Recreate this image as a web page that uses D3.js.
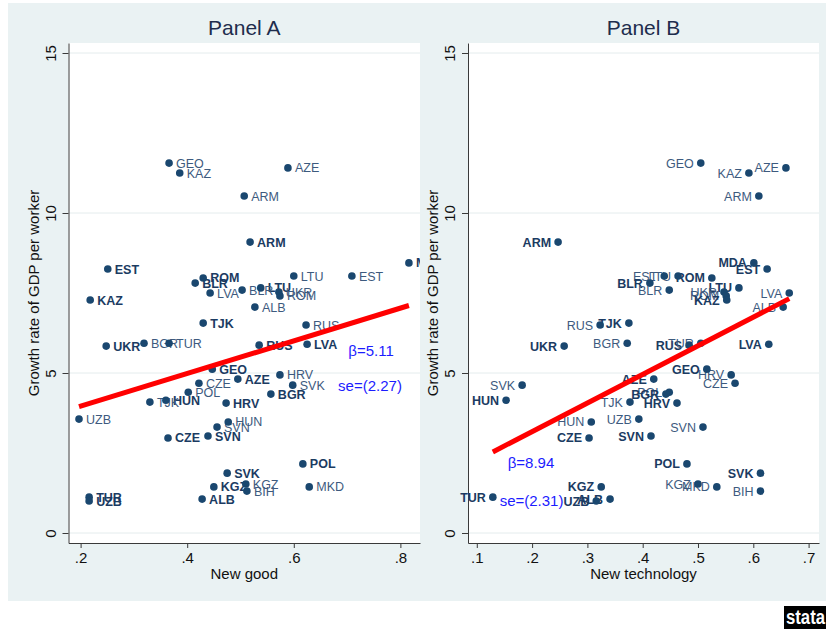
<!DOCTYPE html>
<html>
<head>
<meta charset="utf-8">
<script src="https://cdn.jsdelivr.net/npm/d3@7"></script>
<style>
body { margin: 0; background: #fff; }
text { font-family: "Liberation Sans", Arial, Helvetica, sans-serif; }
</style>
</head>
<body>
<div id="chart"></div>
<script>
// one row per country-period; bold = labels drawn in bold
var codes = ["GEO","KAZ","AZE","ARM","ARM","MDA","EST","LTU","EST","ROM",
             "BLR","LTU","BLR","LVA","UKR","ROM","ALB","TJK","RUS","KAZ",
             "RUS","LVA","UKR","BGR","TUR","GEO","AZE","HRV","CZE","SVK",
             "POL","BGR","HUN","TJK","HRV","UZB","HUN","SVN","SVN","CZE",
             "POL","SVK","KGZ","KGZ","MKD","BIH","TUR","ALB","UZB"];
var bold = [0,0,0,0,1,1,1,0,0,1,
            1,1,0,0,0,0,0,1,0,1,
            1,1,1,0,0,1,1,0,0,0,
            0,1,1,0,1,0,0,0,1,1,
            1,1,0,1,0,0,1,1,1];
var growth = [11.56,11.25,11.41,10.53,9.09,8.44,8.25,8.03,8.03,7.97,
              7.81,7.66,7.59,7.50,7.53,7.41,7.06,6.56,6.50,7.28,
              5.87,5.90,5.84,5.93,5.93,5.12,4.81,4.94,4.68,4.62,
              4.40,4.34,4.15,4.09,4.06,3.56,3.47,3.31,3.03,2.97,
              2.16,1.87,1.53,1.44,1.44,1.31,1.12,1.06,1.00];
var newGood = [0.366,0.386,0.589,0.507,0.518,0.816,0.251,0.600,0.709,0.430,
               0.415,0.538,0.503,0.443,0.572,0.574,0.527,0.430,0.623,0.218,
               0.535,0.625,0.248,0.319,0.366,0.447,0.495,0.574,0.422,0.598,
               0.402,0.557,0.360,0.330,0.473,0.197,0.477,0.456,0.439,0.364,
               0.617,0.475,0.510,0.450,0.629,0.512,0.216,0.428,0.216];
var newTech = [0.505,0.592,0.659,0.610,0.247,0.601,0.625,0.464,0.439,0.525,
               0.413,0.574,0.448,0.665,0.547,0.551,0.654,0.375,0.323,0.552,
               0.484,0.628,0.258,0.372,0.505,0.516,0.420,0.560,0.567,0.182,
               0.448,0.442,0.153,0.377,0.462,0.393,0.307,0.509,0.415,0.303,
               0.480,0.613,0.500,0.325,0.534,0.613,0.129,0.341,0.316];

var yTicks = [0, 5, 10, 15];
var xTicksA = [.2, .4, .6, .8];
var xTicksB = [.1, .2, .3, .4, .5, .6, .7];

// fitted lines (slope, intercept, s.e.) and where the text sits (x, y)
var betaA = 5.11, interceptA = 2.94, seA = 2.27;
var betaB = 8.94, interceptB = 1.38, seB = 2.31;
var betaPosA = [0.745, 5.7], sePosA = [0.743, 4.6];
var betaPosB = [0.198, 2.2], sePosB = [0.199, 1.0];

var rows = codes.map(function(c, i) {
    return {code: c, bold: bold[i], y: growth[i], good: newGood[i], tech: newTech[i]};
});

var svg = d3.select("#chart").append("svg")
    .attr("width", 826)
    .attr("height", 630);

// graph region
svg.append("rect")
    .attr("x", 8).attr("y", 3)
    .attr("width", 818).attr("height", 598)
    .attr("fill", "#eaf2f3");

var fmt = function(d) { return d3.format(".1f")(d).replace(/^0/, ""); };

function drawPanel(cfg) {
    var top = 43, h = 500, w = cfg.right - cfg.left;

    var x = d3.scaleLinear().domain(cfg.xDomain).range([0, w]);
    var y = d3.scaleLinear().domain([-0.3125, 15.3125]).range([h, 0]);

    var g = svg.append("g")
        .attr("transform", "translate(" + cfg.left + "," + top + ")");

    g.append("rect").attr("width", w).attr("height", h).attr("fill", "#fff");

    g.selectAll(".grid").data(yTicks).enter().append("line")
        .attr("class", "grid")
        .attr("x1", 0).attr("x2", w)
        .attr("y1", function(d) { return y(d); })
        .attr("y2", function(d) { return y(d); })
        .attr("stroke", "#e4eced")
        .attr("stroke-width", 1);

    // y axis
    var ya = g.append("g")
        .call(d3.axisLeft(y).tickValues(yTicks).tickSize(6).tickSizeOuter(0));
    ya.select(".domain").attr("stroke", "#3a3a3a");
    ya.selectAll(".tick line").attr("stroke", "#3a3a3a");
    ya.selectAll("text")
        .attr("x", 0).attr("dy", 0)
        .attr("transform", "translate(-13,0) rotate(-90)")
        .attr("text-anchor", "middle")
        .attr("font-size", 15)
        .attr("fill", "#111");

    // x axis
    var xa = g.append("g")
        .attr("transform", "translate(0," + h + ")")
        .call(d3.axisBottom(x).tickValues(cfg.ticks).tickSize(5).tickPadding(4)
            .tickSizeOuter(0).tickFormat(fmt));
    xa.select(".domain").attr("stroke", "#3a3a3a");
    xa.selectAll(".tick line").attr("stroke", "#3a3a3a");
    xa.selectAll("text").attr("font-size", 15).attr("fill", "#111");

    // titles
    g.append("text")
        .attr("x", w / 2).attr("y", -8)
        .attr("text-anchor", "middle")
        .attr("font-size", 21)
        .attr("fill", "#1e2d4d")
        .text(cfg.title);

    g.append("text")
        .attr("x", w / 2).attr("y", h + 36)
        .attr("text-anchor", "middle")
        .attr("font-size", 15)
        .attr("fill", "#111")
        .text(cfg.xTitle);

    g.append("text")
        .attr("transform", "translate(-30," + (h / 2) + ") rotate(-90)")
        .attr("text-anchor", "middle")
        .attr("font-size", 15)
        .attr("fill", "#111")
        .text("Growth rate of GDP per worker");

    var clipId = "clip" + cfg.key;
    svg.append("clipPath").attr("id", clipId)
        .append("rect")
        .attr("x", -60).attr("y", -20)
        .attr("width", w + 60).attr("height", h + 40);

    // marker labels
    var left = cfg.labelSide === "left";
    g.append("g").attr("clip-path", "url(#" + clipId + ")")
        .selectAll("text").data(rows).enter().append("text")
        .attr("x", function(d) { return x(d[cfg.key]) + (left ? -7 : 7); })
        .attr("y", function(d) { return y(d.y); })
        .attr("dy", "0.36em")
        .attr("text-anchor", left ? "end" : "start")
        .attr("font-size", 12.5)
        .attr("font-weight", function(d) { return d.bold ? "bold" : "normal"; })
        .attr("fill", function(d) { return d.bold ? "#1b3b62" : "#3d5a7e"; })
        .text(function(d) { return d.code; });

    // markers
    g.append("g").selectAll("circle").data(rows).enter().append("circle")
        .attr("cx", function(d) { return x(d[cfg.key]); })
        .attr("cy", function(d) { return y(d.y); })
        .attr("r", 3.8)
        .attr("fill", "#1a476f");

    // fitted line over the range of the data
    var ext = d3.extent(rows, function(d) { return d[cfg.key]; });
    g.append("line")
        .attr("x1", x(ext[0])).attr("y1", y(cfg.a + cfg.b * ext[0]))
        .attr("x2", x(ext[1])).attr("y2", y(cfg.a + cfg.b * ext[1]))
        .attr("stroke", "#ff0000")
        .attr("stroke-width", 5);

    g.append("text")
        .attr("x", x(cfg.betaPos[0])).attr("y", y(cfg.betaPos[1]))
        .attr("dy", "0.35em")
        .attr("text-anchor", "middle")
        .attr("font-size", 15)
        .attr("fill", "#1c1cff")
        .text("\u03b2=" + cfg.b.toFixed(2));

    g.append("text")
        .attr("x", x(cfg.sePos[0])).attr("y", y(cfg.sePos[1]))
        .attr("dy", "0.35em")
        .attr("text-anchor", "middle")
        .attr("font-size", 15)
        .attr("fill", "#1c1cff")
        .text("se=(" + cfg.se.toFixed(2) + ")");
}

drawPanel({
    key: "good", left: 68.5, right: 420,
    xDomain: [0.1773, 0.8368], ticks: xTicksA,
    title: "Panel A", xTitle: "New good", labelSide: "right",
    a: interceptA, b: betaA, se: seA, betaPos: betaPosA, sePos: sePosA
});

drawPanel({
    key: "tech", left: 468, right: 819,
    xDomain: [0.0841, 0.7188], ticks: xTicksB,
    title: "Panel B", xTitle: "New technology", labelSide: "left",
    a: interceptB, b: betaB, se: seB, betaPos: betaPosB, sePos: sePosB
});

// stata logo
svg.append("rect")
    .attr("x", 784).attr("y", 606)
    .attr("width", 42).attr("height", 23)
    .attr("fill", "#000");
svg.append("text")
    .attr("x", 786).attr("y", 624)
    .attr("textLength", 39)
    .attr("lengthAdjust", "spacingAndGlyphs")
    .attr("font-size", 20)
    .attr("font-weight", "bold")
    .attr("fill", "#fff")
    .text("stata");
</script>
</body>
</html>
